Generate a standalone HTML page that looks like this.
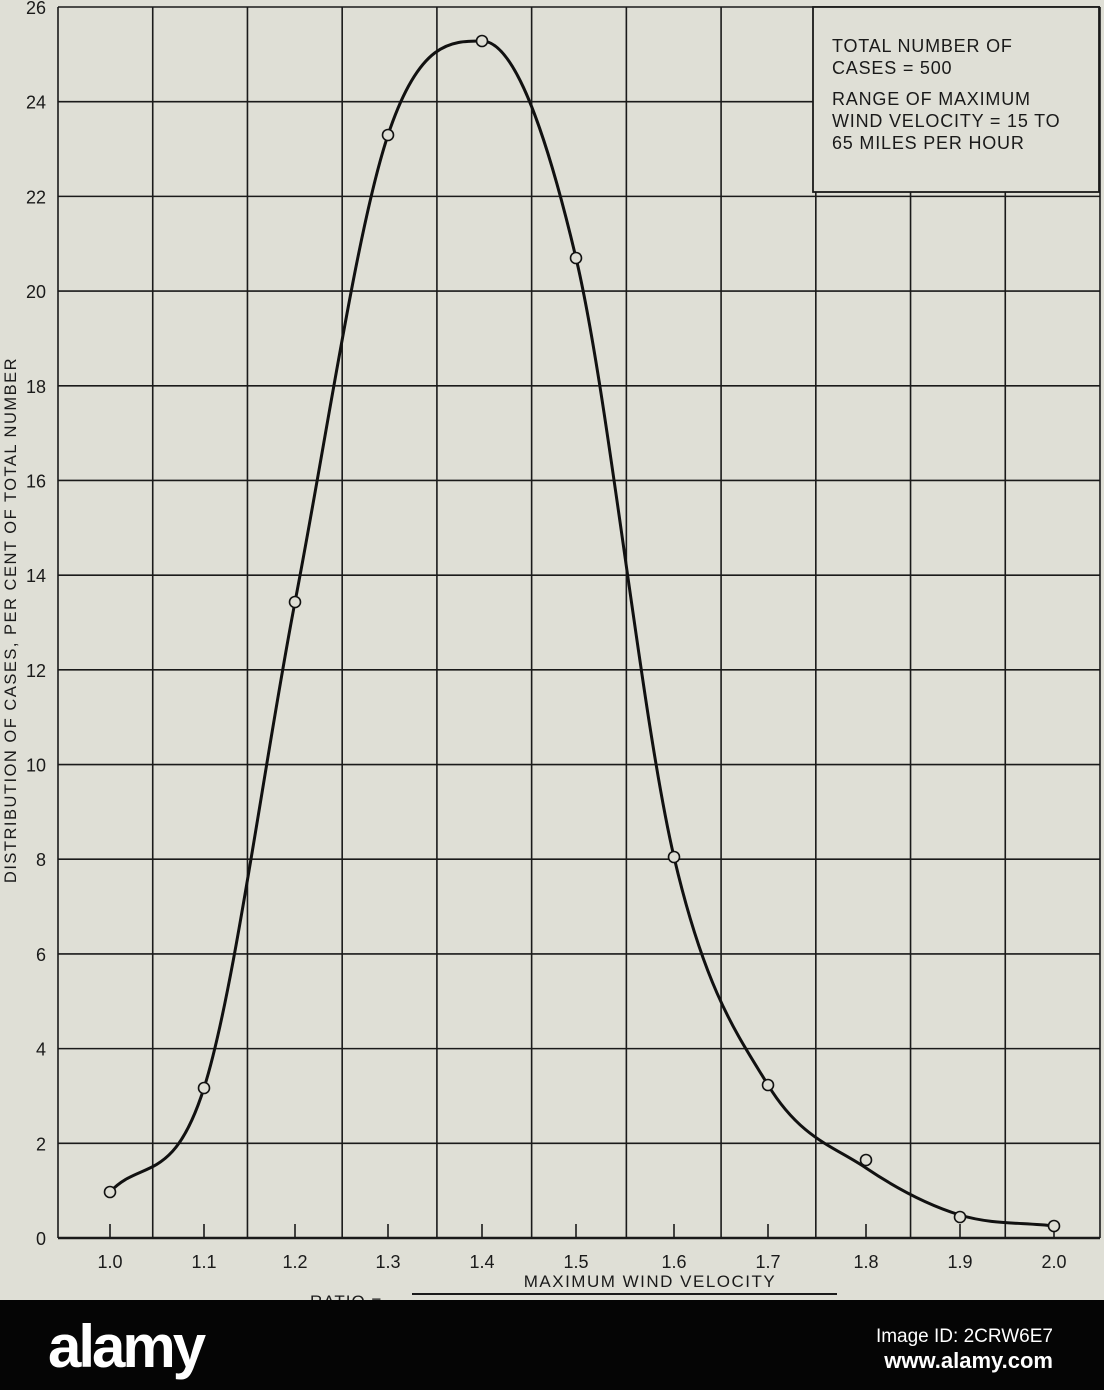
<!DOCTYPE html>
<html><head><meta charset="utf-8"><style>
html,body{margin:0;padding:0;background:#dfdfd6;}
body{width:1104px;height:1390px;overflow:hidden;position:relative;font-family:"DejaVu Sans","Liberation Sans",sans-serif;}
</style></head><body>
<svg width="1104" height="1390" viewBox="0 0 1104 1390" xmlns="http://www.w3.org/2000/svg" style="position:absolute;left:0;top:0">
<rect width="1104" height="1300" fill="#dfdfd6"/>
<g id="grid" stroke="#1a1a1a" stroke-width="1.6" fill="none"></g>
<rect x="813" y="7" width="286" height="185" fill="#dfdfd6" stroke="#1a1a1a" stroke-width="1.8"/>
<g font-size="18" fill="#1a1a1a" font-family="Liberation Sans,sans-serif" letter-spacing="0.8">
<text x="832" y="52">TOTAL NUMBER OF</text>
<text x="832" y="74">CASES = 500</text>
<text x="832" y="105">RANGE OF MAXIMUM</text>
<text x="832" y="127">WIND VELOCITY = 15 TO</text>
<text x="832" y="149">65 MILES PER HOUR</text>
</g>
<g id="ylab" font-size="18" fill="#1a1a1a" text-anchor="end" font-family="Liberation Sans,sans-serif"></g>
<g id="xlab" font-size="18" fill="#1a1a1a" text-anchor="middle" font-family="Liberation Sans,sans-serif"></g>
<text transform="translate(16,620) rotate(-90)" font-size="16.5" fill="#1a1a1a" text-anchor="middle" letter-spacing="1.5" font-family="Liberation Sans,sans-serif">DISTRIBUTION OF CASES, PER CENT OF TOTAL NUMBER</text>
<text x="650" y="1287" font-size="17" fill="#1a1a1a" text-anchor="middle" letter-spacing="1.5" font-family="Liberation Sans,sans-serif">MAXIMUM WIND VELOCITY</text>
<text x="310" y="1307" font-size="17" fill="#1a1a1a" letter-spacing="1" font-family="Liberation Sans,sans-serif">RATIO =</text>
<line x1="412" y1="1294" x2="837" y2="1294" stroke="#1a1a1a" stroke-width="2"/>
<path id="curve" fill="none" stroke="#111" stroke-width="3"/>
<g id="pts" fill="#dfdfd6" stroke="#111" stroke-width="1.6"></g>
<rect x="0" y="1300" width="1104" height="90" fill="#050505"/>
<text x="48" y="1367" font-size="60" font-weight="bold" fill="#fff" font-family="Liberation Sans Narrow,Liberation Sans,sans-serif" letter-spacing="-3">alamy</text>
<text x="1053" y="1342" font-size="19" fill="#fff" text-anchor="end" font-family="Liberation Sans Narrow,Liberation Sans,sans-serif">Image ID: 2CRW6E7</text>
<text x="1053" y="1368" font-size="22" font-weight="bold" fill="#fff" text-anchor="end" font-family="Liberation Sans Narrow,Liberation Sans,sans-serif">www.alamy.com</text>
</svg>
<script>
var NS="http://www.w3.org/2000/svg";
function el(p,t,a,txt){var e=document.createElementNS(NS,t);for(var k in a)e.setAttribute(k,a[k]);if(txt!==undefined)e.textContent=txt;document.getElementById(p).appendChild(e);}
var L=58,R=1100,T=7,B=1238;
function Y(v){return B-(B-T)*v/26;}
for(var i=0;i<=11;i++){var x=L+i*(R-L)/11;el("grid","line",{x1:x,y1:T,x2:x,y2:B});}
for(var j=0;j<=13;j++){var y=Y(j*2);el("grid","line",{x1:L,y1:y,x2:R,y2:y});el("ylab","text",{x:46,y:y+7},String(j*2));}
el("grid","line",{x1:L,y1:B,x2:R,y2:B,"stroke-width":2.5});
var lab=["1.0","1.1","1.2","1.3","1.4","1.5","1.6","1.7","1.8","1.9","2.0"];
var px=[110,204,295,388,482,576,674,768,866,960,1054];
for(var i=0;i<11;i++){el("grid","line",{x1:px[i],y1:B-14,x2:px[i],y2:B});el("xlab","text",{x:px[i],y:B+30},lab[i]);}
var P=[[110,1192],[204,1088],[295,602],[388,135],[482,41],[576,258],[674,857],[768,1085],[866,1168],[960,1215],[1054,1226]];
var n=P.length,dl=[],m=[];
for(var i=0;i<n-1;i++)dl.push((P[i+1][1]-P[i][1])/(P[i+1][0]-P[i][0]));
m[0]=dl[0];m[n-1]=dl[n-2];
for(var i=1;i<n-1;i++){if(dl[i-1]*dl[i]<=0)m[i]=0;else m[i]=(dl[i-1]+dl[i])/2;}
for(var i=0;i<n-1;i++){if(dl[i]==0){m[i]=m[i+1]=0;continue;}var a=m[i]/dl[i],b=m[i+1]/dl[i],s=a*a+b*b;if(s>9){var t=3/Math.sqrt(s);m[i]=t*a*dl[i];m[i+1]=t*b*dl[i];}}
var d="M"+P[0][0]+","+P[0][1];
for(var i=0;i<n-1;i++){var h=(P[i+1][0]-P[i][0])/3;
d+=" C"+(P[i][0]+h)+","+(P[i][1]+m[i]*h)+" "+(P[i+1][0]-h)+","+(P[i+1][1]-m[i+1]*h)+" "+P[i+1][0]+","+P[i+1][1];}
document.getElementById("curve").setAttribute("d",d);
var D=[[110,1192],[204,1088],[295,602],[388,135],[482,41],[576,258],[674,857],[768,1085],[866,1160],[960,1217],[1054,1226]];
D.forEach(function(p){el("pts","circle",{cx:p[0],cy:p[1],r:5.5});});
</script>
</body></html>
